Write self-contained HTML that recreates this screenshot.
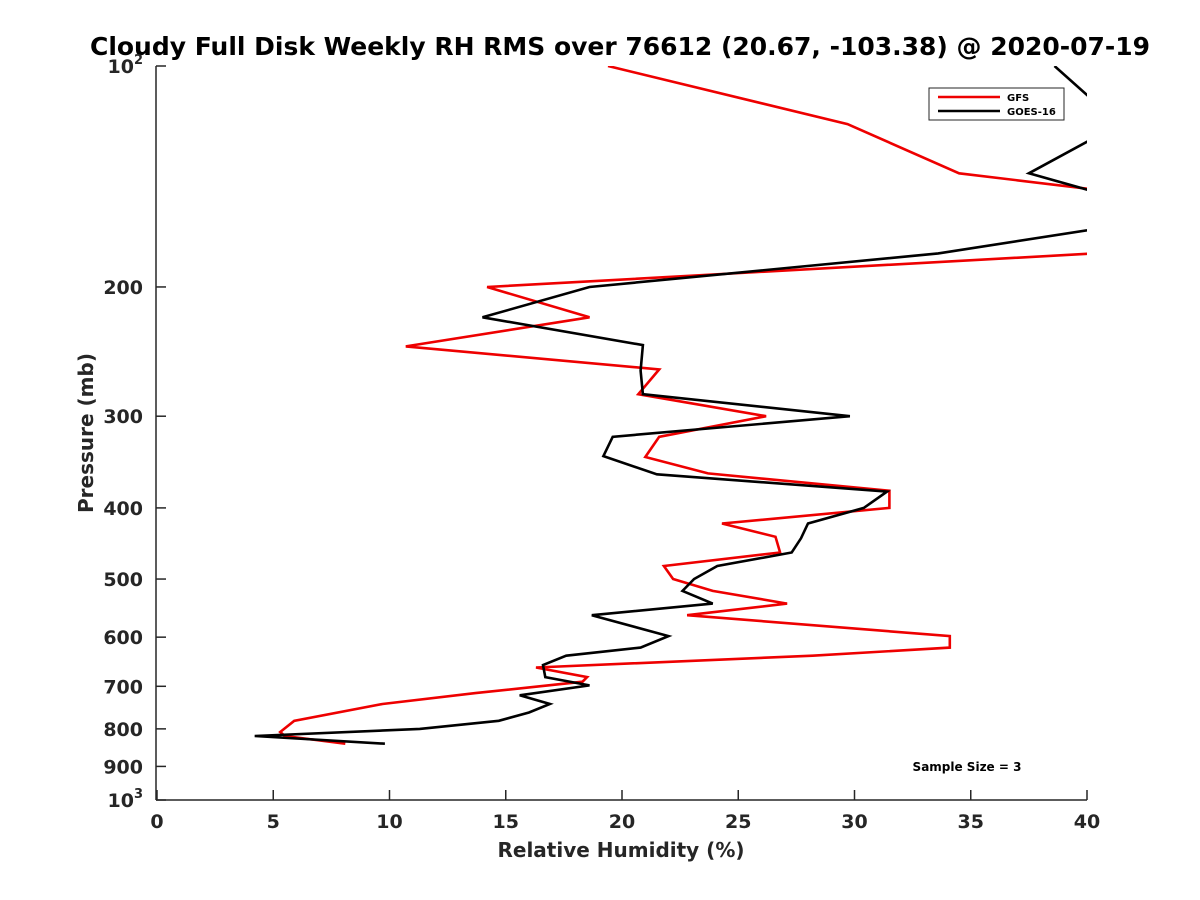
<!DOCTYPE html>
<html><head><meta charset="utf-8"><style>
body{margin:0;background:#fff;}
svg{display:block;font-family:"DejaVu Sans","Liberation Sans",sans-serif;font-weight:bold;}
</style></head><body>
<svg id="chart" width="1200" height="900" viewBox="0 0 1200 900">
<defs><clipPath id="pc"><rect x="157" y="66" width="930" height="734"/></clipPath></defs>
<text x="620" y="55" text-anchor="middle" font-size="25" textLength="1060" lengthAdjust="spacingAndGlyphs" fill="#000">Cloudy Full Disk Weekly RH RMS over 76612 (20.67, -103.38) @ 2020-07-19</text>
<g id="axes"></g>
<g id="series" clip-path="url(#pc)"></g>
<g>
<rect x="929" y="88" width="135" height="32" fill="#fff" stroke="#262626" stroke-width="1"/>
<line x1="938" y1="97" x2="1000" y2="97" stroke="#e00" stroke-width="2.5"/>
<text x="1007" y="101" font-size="10" fill="#000">GFS</text>
<line x1="938" y1="111" x2="1000" y2="111" stroke="#000" stroke-width="2.5"/>
<text x="1007" y="115" font-size="10" fill="#000">GOES-16</text>
</g>
<text x="967" y="771" text-anchor="middle" font-size="12" fill="#000">Sample Size = 3</text>
<text x="621" y="857" text-anchor="middle" font-size="20" fill="#262626">Relative Humidity (%)</text>
<text transform="translate(93,433) rotate(-90)" text-anchor="middle" font-size="20" fill="#262626">Pressure (mb)</text>
</svg>
<script>
const xTicks=[0,5,10,15,20,25,30,35,40];
const yTicks=[100,200,300,400,500,600,700,800,900,1000];
const gfsP=[100,120,140,169,200,220,241,259,280,300,320,341,359,379,400,420,438,460,480,500,519,540,560,598,620,636,660,680,690,715,740,780,808,818,838];
const gfsRH=[19.4,29.7,34.5,56,14.2,18.6,10.7,21.6,20.7,26.2,21.6,21.0,23.7,31.5,31.5,24.3,26.6,26.8,21.8,22.2,23.9,27.1,22.8,34.1,34.1,28.2,16.3,18.5,18.3,13.7,9.7,5.9,5.3,5.5,8.1];
const goesP=[100,120,140,160,180,200,220,240,260,280,300,320,340,360,380,400,420,440,460,480,500,519,540,560,598,620,636,655,680,698,720,740,760,780,800,818,838];
const goesRH=[38.6,41.4,37.5,44.0,33.6,18.6,14.0,20.9,20.8,20.9,29.8,19.6,19.2,21.5,31.4,30.4,28.0,27.7,27.3,24.1,23.1,22.6,23.9,18.7,22.0,20.8,17.6,16.6,16.7,18.6,15.6,16.9,16.0,14.7,11.3,4.2,9.8];

const NS='http://www.w3.org/2000/svg';
const X0=157,X1=1087,Y0=66,Y1=800;
const xs=v=>X0+(v-0)/(40-0)*(X1-X0);
const ys=p=>Y0+(Math.log10(p)-2)/(3-2)*(Y1-Y0);
function mk(tag,attrs,parent){const e=document.createElementNS(NS,tag);for(const k in attrs)e.setAttribute(k,attrs[k]);parent.appendChild(e);return e;}
const ax=document.getElementById('axes');
const c='#262626';
const xl=mk('line',{x1:X0-1,y1:Y1,x2:X1,y2:Y1,stroke:c,'stroke-width':1.5},ax);


const yl=mk('line',{x1:X0-1,y1:Y0,x2:X0-1,y2:Y1,stroke:c,'stroke-width':1.5},ax);


xTicks.forEach(t=>{
  const x=xs(t);
  const tk=mk('line',{x1:x,y1:Y1,x2:x,y2:Y1-10,stroke:c,'stroke-width':1.5},ax);
  
  
  const tx=mk('text',{x:x,y:Y1+28,'text-anchor':'middle','font-size':19,fill:c},ax);
  
  
  tx.textContent=t;
});
yTicks.forEach(t=>{
  const y=ys(t);
  const tk=mk('line',{x1:X0-1,y1:y,x2:X0+9,y2:y,stroke:c,'stroke-width':1.5},ax);
  
  
  const tx=mk('text',{x:X0-14,y:y+7,'text-anchor':'end','font-size':19,fill:c},ax);
  
  
  if(t===100||t===1000){
    tx.textContent='10';
    const s=mk('tspan',{dy:-9,'font-size':13},tx);
    s.textContent=t===100?'2':'3';
  } else tx.textContent=t;
});
const sg=document.getElementById('series');
function draw(P,V,col,name){
  const pts=P.map((p,i)=>xs(V[i]).toFixed(1)+','+ys(p).toFixed(1)).join(' ');
  const pl=mk('polyline',{points:pts,fill:'none',stroke:col,'stroke-width':2.6,'stroke-linejoin':'miter'},sg);
  
  
}
draw(gfsP,gfsRH,'#e00','gfs-line');
draw(goesP,goesRH,'#000','goes-16-line');
</script>
</body></html>
